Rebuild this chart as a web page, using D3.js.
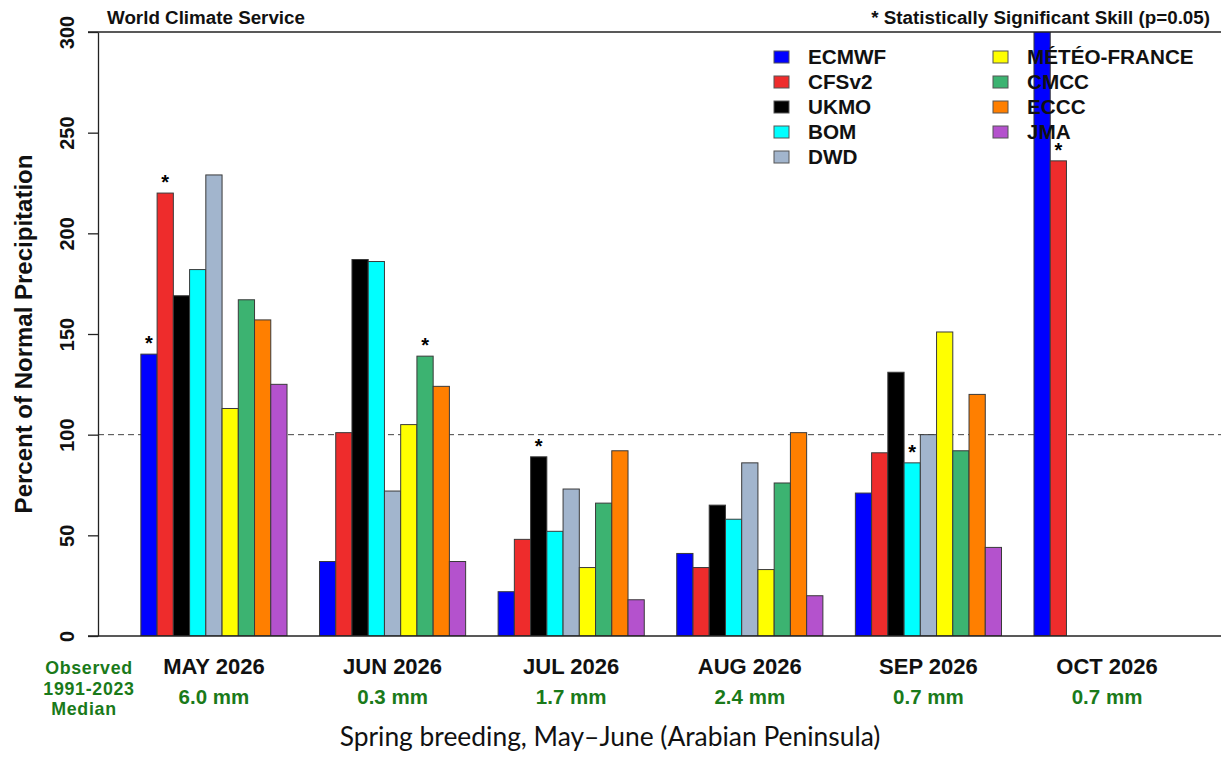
<!DOCTYPE html>
<html>
<head>
<meta charset="utf-8">
<script src="https://cdn.jsdelivr.net/npm/d3@7"></script>
<style>
  body { margin: 0; background: #fff; }
  svg text { font-family: "Liberation Sans", Arial, Helvetica, sans-serif; }
</style>
</head>
<body>
<div id="canvas"></div>
<script>
// chart values
var months = ['MAY 2026', 'JUN 2026', 'JUL 2026', 'AUG 2026', 'SEP 2026', 'OCT 2026'];
var observed = ['6.0 mm', '0.3 mm', '1.7 mm', '2.4 mm', '0.7 mm', '0.7 mm'];
var models = ['ECMWF', 'CFSv2', 'UKMO', 'BOM', 'DWD', 'MÉTÉO-FRANCE', 'CMCC', 'ECCC', 'JMA'];
var colors = ['#0000ff', '#ee2c2c', '#000000', '#00ffff', '#a2b5cd', '#ffff00', '#3cb371', '#ff7f00', '#b452cd'];

var ecmwf  = [140, 37, 22, 41, 71, 320];
var cfsv2  = [220, 101, 48, 34, 91, 236];
var ukmo   = [169, 187, 89, 65, 131, null];
var bom    = [182, 186, 52, 58, 86, null];
var dwd    = [229, 72, 73, 86, 100, null];
var meteo  = [113, 105, 34, 33, 151, null];
var cmcc   = [167, 139, 66, 76, 92, null];
var eccc   = [157, 124, 92, 101, 120, null];
var jma    = [125, 37, 18, 20, 44, null];
var seriesValues = [ecmwf, cfsv2, ukmo, bom, dwd, meteo, cmcc, eccc, jma];

// bars with statistically significant skill: [model, month]
var significant = [['ECMWF', 'MAY 2026'], ['CFSv2', 'MAY 2026'], ['CMCC', 'JUN 2026'],
                   ['UKMO', 'JUL 2026'], ['BOM', 'SEP 2026'], ['CFSv2', 'OCT 2026']];

var yTicks = [0, 50, 100, 150, 200, 250, 300];

window.onload = (function () {
    var W = 1221, H = 760;
    var left = 98, top = 32, bottom = 636, right = 1223;

    var svg = d3.select('#canvas').append('svg')
        .attr('width', W).attr('height', H);

    var y = d3.scaleLinear().domain([0, 300]).range([bottom, top]);
    var x0 = d3.scaleBand().domain(months).range([left, right])
        .paddingInner(2 / 11).paddingOuter(0.24);
    var x1 = d3.scaleBand().domain(models).range([0, x0.bandwidth()]);

    // flatten to one record per bar
    var bars = [];
    months.forEach(function (m, i) {
        models.forEach(function (k, j) {
            var v = seriesValues[j][i];
            if (v != null) bars.push({month: m, model: k, value: v, color: colors[j]});
        });
    });

    svg.append('clipPath').attr('id', 'plotclip')
        .append('rect').attr('x', left).attr('y', top)
        .attr('width', W - left).attr('height', bottom - top);

    // reference line at 100 %
    svg.append('line')
        .attr('x1', left).attr('x2', W)
        .attr('y1', y(100)).attr('y2', y(100))
        .attr('stroke', '#444').attr('stroke-width', 1)
        .attr('stroke-dasharray', '6,4');

    svg.append('g').attr('clip-path', 'url(#plotclip)')
        .selectAll('rect').data(bars).enter().append('rect')
        .attr('x', function (d) { return x0(d.month) + x1(d.model); })
        .attr('y', function (d) { return y(d.value); })
        .attr('width', x1.bandwidth())
        .attr('height', function (d) { return y(0) - y(d.value); })
        .attr('fill', function (d) { return d.color; })
        .attr('stroke', '#3a3a3a').attr('stroke-width', 1);

    // significance stars
    svg.append('g').selectAll('text').data(significant).enter().append('text')
        .attr('x', function (d) { return x0(d[1]) + x1(d[0]) + x1.bandwidth() / 2; })
        .attr('y', function (d) {
            var j = models.indexOf(d[0]), i = months.indexOf(d[1]);
            return y(seriesValues[j][i]) - 4;
        })
        .attr('text-anchor', 'middle')
        .style('font-size', '20px').style('font-weight', 'bold')
        .text('*');

    // frame lines
    svg.append('line').attr('x1', left - 10).attr('x2', W).attr('y1', top).attr('y2', top)
        .attr('stroke', '#222').attr('stroke-width', 1.3);
    svg.append('line').attr('x1', left - 10).attr('x2', W).attr('y1', bottom).attr('y2', bottom)
        .attr('stroke', '#222').attr('stroke-width', 1.3);

    // y axis
    var yAxis = svg.append('g').attr('transform', 'translate(' + left + ',0)')
        .call(d3.axisLeft(y).tickValues(yTicks).tickSize(10).tickSizeOuter(0));
    yAxis.select('.domain').attr('stroke', '#222').attr('stroke-width', 1.3);
    yAxis.selectAll('.tick line').attr('stroke', '#222').attr('stroke-width', 1.3);
    yAxis.selectAll('.tick text')
        .attr('transform', 'rotate(-90)')
        .attr('x', 0).attr('y', -24).attr('dy', 0)
        .attr('text-anchor', 'middle')
        .style('font-size', '20px').style('font-weight', 'bold')
        .style('font-family', '"Liberation Sans", Arial, sans-serif')
        .attr('fill', '#111');

    svg.append('text')
        .attr('transform', 'translate(32,' + ((top + bottom) / 2) + ') rotate(-90)')
        .attr('text-anchor', 'middle')
        .style('font-size', '24px').style('font-weight', 'bold')
        .attr('fill', '#111')
        .text('Percent of Normal Precipitation');

    // month labels and observed medians
    svg.append('g').selectAll('text').data(months).enter().append('text')
        .attr('x', function (d) { return x0(d) + x0.bandwidth() / 2; })
        .attr('y', 674)
        .attr('text-anchor', 'middle')
        .style('font-size', '22px').style('font-weight', 'bold')
        .attr('fill', '#111')
        .text(function (d) { return d; });

    svg.append('g').selectAll('text').data(observed).enter().append('text')
        .attr('x', function (d, i) { return x0(months[i]) + x0.bandwidth() / 2; })
        .attr('y', 704)
        .attr('text-anchor', 'middle')
        .style('font-size', '20.5px').style('font-weight', 'bold')
        .attr('fill', '#1a7a1a')
        .text(function (d) { return d; });

    var obsLines = ['Observed', '1991-2023', 'Median'];
    svg.append('g').selectAll('text').data(obsLines).enter().append('text')
        .attr('x', function (d, i) { return i === 2 ? 84 : 89; })
        .attr('y', function (d, i) { return 674 + i * 20.5; })
        .attr('text-anchor', 'middle')
        .style('font-size', '17.8px').style('font-weight', 'bold')
        .style('letter-spacing', '0.7px')
        .attr('fill', '#1a7a1a')
        .text(function (d) { return d; });

    // header texts
    svg.append('text').attr('x', 107).attr('y', 24)
        .style('font-size', '18.8px').style('font-weight', 'bold').attr('fill', '#111')
        .text('World Climate Service');
    svg.append('text').attr('x', 1210).attr('y', 24)
        .attr('text-anchor', 'end')
        .style('font-size', '18.8px').style('font-weight', 'bold').attr('fill', '#111')
        .text('* Statistically Significant Skill (p=0.05)');

    // legend (drawn over the bars, as in the original)
    var legend = svg.append('g').selectAll('g').data(models).enter().append('g')
        .attr('transform', function (d, i) {
            var col = i < 5 ? 0 : 1, row = i < 5 ? i : i - 5;
            return 'translate(' + (col === 0 ? 774 : 993) + ',' + (57 + row * 25) + ')';
        });
    legend.append('rect')
        .attr('x', 0).attr('y', -6).attr('width', 15).attr('height', 12)
        .attr('fill', function (d, i) { return colors[i]; })
        .attr('stroke', '#555').attr('stroke-width', 1);
    legend.append('text')
        .attr('x', 34).attr('y', 7)
        .style('font-size', '20.7px').style('font-weight', 'bold').attr('fill', '#111')
        .text(function (d) { return d; });

    // caption
    svg.append('text').attr('x', 610).attr('y', 746)
        .attr('text-anchor', 'middle')
        .style('font-family', 'Lato, "Open Sans", sans-serif')
        .style('font-size', '26.4px').attr('fill', '#111')
        .text('Spring breeding, May–June (Arabian Peninsula)');
}());
</script>
</body>
</html>
